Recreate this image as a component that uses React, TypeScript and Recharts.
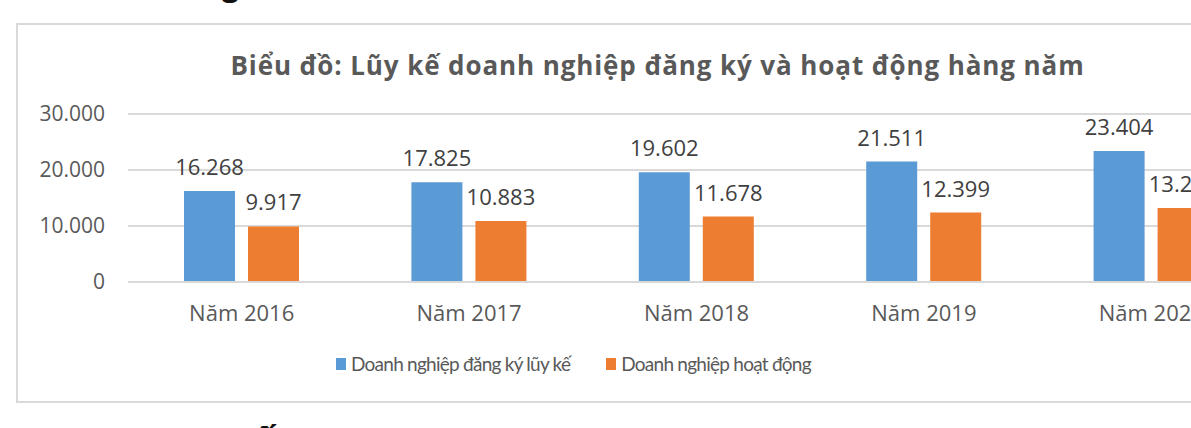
import { BarChart, Bar, XAxis, YAxis, CartesianGrid, LabelList, Legend } from "recharts";

const YEARS = ["Năm 2016", "Năm 2017", "Năm 2018", "Năm 2019", "Năm 2020"];
const REGISTERED = [16268, 17825, 19602, 21511, 23404];
const ACTIVE = [9917, 10883, 11678, 12399, 13232];
const Y_TICKS = [0, 10000, 20000, 30000];

const SERIES = [
  { key: "registered", name: "Doanh nghiệp đăng ký lũy kế", color: "#5b9bd5" },
  { key: "active", name: "Doanh nghiệp hoạt động", color: "#ed7d31" },
];

const FONT = "'Open Sans', sans-serif";

const fmt = (v: number) => String(v).replace(/\B(?=(\d{3})+(?!\d))/g, ".");

const data = YEARS.map((year, i) => ({
  year,
  registered: REGISTERED[i],
  active: ACTIVE[i],
}));

const LegendContent = () => (
  <div style={{ display: "flex", alignItems: "center", fontFamily: "Lato, sans-serif", fontSize: 19, color: "#595959", letterSpacing: -0.75, whiteSpace: "nowrap" }}>
    {SERIES.map((s, i) => (
      <div key={s.key} style={{ display: "flex", alignItems: "center", marginRight: i === 0 ? 36 : 0 }}>
        <span style={{ display: "inline-block", width: 10, height: 12, background: s.color, marginRight: 5 }} />
        <span>{s.name}</span>
      </div>
    ))}
  </div>
);

const App = () => {
  return (
    <div style={{ position: "fixed", left: 0, top: 0, width: 1191, height: 428, overflow: "hidden", background: "#fff" }}>
      {/* bits of the surrounding page */}
      <div style={{ position: "absolute", left: 222, top: -30, fontFamily: FONT, fontWeight: 700, fontSize: 30, lineHeight: 1, color: "#111" }}>g</div>
      <div style={{ position: "absolute", left: 254, top: 428, fontFamily: FONT, fontWeight: 700, fontSize: 36, lineHeight: 1, color: "#111" }}>Ế</div>

      <div style={{ position: "absolute", left: 16, top: 23, width: 1300, height: 376, border: "2px solid #d9d9d9", boxSizing: "content-box" }} />

      <div style={{ position: "absolute", left: 0, top: 52, width: 1315, textAlign: "center", fontFamily: FONT, fontWeight: 700, fontSize: 26, letterSpacing: 0.9, lineHeight: 1, color: "#595959" }}>
        Biểu đồ: Lũy kế doanh nghiệp đăng ký và hoạt động hàng năm
      </div>

      <div style={{ position: "absolute", left: 0, top: 0 }}>
        <BarChart
          width={1300}
          height={400}
          data={data}
          margin={{ top: 114, right: 35, bottom: 58, left: 0 }}
          barSize={51}
          barGap={13}
        >
          <CartesianGrid vertical={false} stroke="#d9d9d9" strokeWidth={2} />
          <XAxis
            dataKey="year"
            axisLine={{ stroke: "#d9d9d9", strokeWidth: 2 }}
            tickLine={false}
            tickSize={0}
            tickMargin={23}
            height={60}
            tick={{ fill: "#595959", fontSize: 22, fontFamily: FONT }}
          />
          <YAxis
            width={128}
            domain={[0, 30000]}
            ticks={Y_TICKS}
            axisLine={false}
            tickLine={false}
            tickSize={0}
            tickMargin={23}
            tickFormatter={fmt}
            tick={{ fill: "#595959", fontSize: 21, fontFamily: FONT }}
          />
          <Legend
            layout="horizontal"
            verticalAlign="middle"
            align="center"
            wrapperStyle={{ top: 352, left: 336, width: "auto" }}
            content={LegendContent}
          />
          {SERIES.map((s) => (
            <Bar key={s.key} dataKey={s.key} name={s.name} fill={s.color} isAnimationActive={false}>
              <LabelList
                dataKey={s.key}
                position="top"
                offset={16}
                formatter={(v: any) => fmt(Number(v))}
                style={{ fill: "#404040", fontSize: 22, fontFamily: FONT }}
              />
            </Bar>
          ))}
        </BarChart>
      </div>
    </div>
  );
};

export default App;
